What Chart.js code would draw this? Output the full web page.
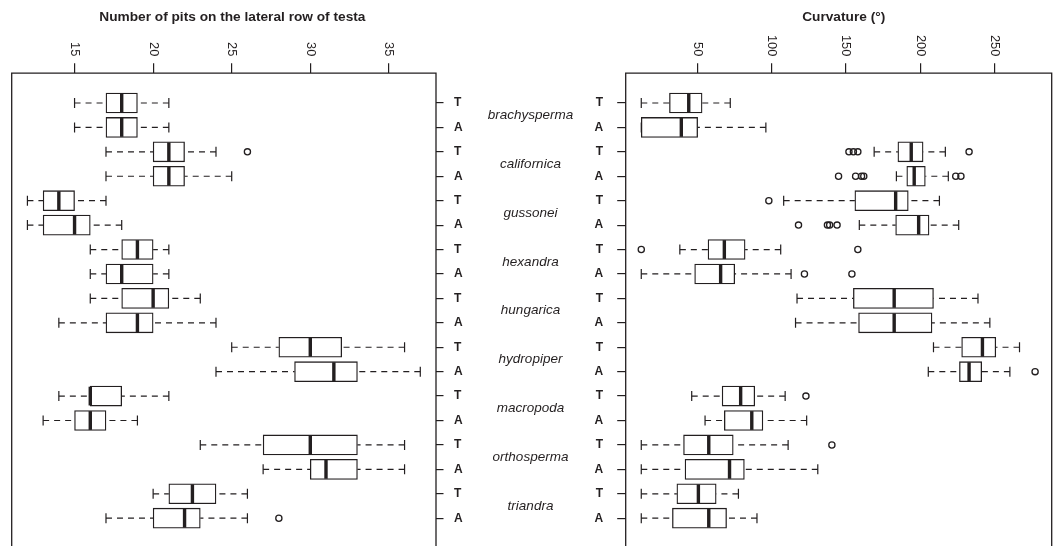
<!DOCTYPE html>
<html>
<head>
<meta charset="utf-8">
<title>Seed traits by species and group</title>
<script src="https://cdn.jsdelivr.net/npm/chart.js@4.4.1/dist/chart.umd.min.js"></script>
<style>
  html, body { margin: 0; padding: 0; background: #fff; overflow: hidden; width: 1058px; height: 546px; }
  #wrap { position: relative; width: 1058px; height: 546px; overflow: hidden; }
  #wrap canvas { position: absolute; left: 0; top: 0; }
</style>
</head>
<body>
<div id="wrap">
  <canvas id="pits" width="1058" height="600"></canvas>
  <canvas id="curv" width="1058" height="600"></canvas>
</div>
<script>
// ---- categories -------------------------------------------------------
const species = ['brachysperma', 'californica', 'gussonei', 'hexandra', 'hungarica',
                 'hydropiper', 'macropoda', 'orthosperma', 'triandra'];
const groups = ['T', 'A'];                     // each species: T row, then A row

// ---- number of pits on the lateral row of testa (rows: species x group) --
const pitsLow  = [15, 15, 17, 17, 12, 12, 16, 16, 16, 14, 25, 24, 14, 13, 23, 27, 20, 17];
const pitsQ1   = [17, 17, 20, 20, 13, 13, 18, 17, 18, 17, 28, 29, 16, 15, 27, 30, 21, 20];
const pitsMed  = [18, 18, 21, 21, 14, 15, 19, 18, 20, 19, 30, 31.5, 16, 16, 30, 31, 22.5, 22];
const pitsQ3   = [19, 19, 22, 22, 15, 16, 20, 20, 21, 20, 32, 33, 18, 17, 33, 33, 24, 23];
const pitsHigh = [21, 21, 24, 25, 17, 18, 21, 21, 23, 24, 36, 37, 21, 19, 36, 36, 26, 26];
const pitsOut  = [[], [], [26], [], [], [], [], [], [], [], [], [], [], [], [], [], [], [28]];
const pitsTicks = [15, 20, 25, 30, 35];

// ---- curvature in degrees ---------------------------------------------
const curvLow  = [12, 12, 169, 184, 108, 159, 38, 12, 117, 116, 209, 205.5, 46, 55, 12, 12, 12, 12];
const curvQ1   = [31, 12, 185, 191, 156, 183.5, 57, 48, 155, 158.5, 228, 226.5, 66.5, 68, 40.5, 41.5, 36, 33];
const curvMed  = [44, 39, 194, 196, 183.5, 199, 68, 65.5, 182.5, 182.5, 242, 233, 79, 86.5, 57.5, 71.5, 50.5, 57.5];
const curvQ3   = [53, 50, 202, 203.5, 192, 206, 82, 75, 209, 208, 251, 241.5, 88.5, 94, 74, 81.5, 62.5, 69.5];
const curvHigh = [72, 96, 217, 219, 213, 226, 106, 113, 239, 247, 267, 260.5, 109, 123.5, 111, 131, 77.5, 90];
const curvOut  = [[], [], [152, 155, 158, 233], [145, 156.5, 160.5, 162, 224, 227.5],
                  [98], [118, 137.5, 139, 144], [12, 158], [122, 154], [], [], [], [277.5],
                  [123], [], [140.5], [], [], []];
const curvTicks = [50, 100, 150, 200, 250];

// ---- shared styling ---------------------------------------------------
const INK = '#231f20';
const FAMILY = '"Liberation Sans", Arial, Helvetica, sans-serif';
const BOX_H = 20;        // box height in px
const CAP_H = 10;        // whisker staple height in px
const ROW_MIN = -0.22, ROW_MAX = 19.22;   // row axis with 4% extension around 0.5..18.5

const rows = [];
species.forEach(() => groups.forEach(g => rows.push(g)));
const rowPositions = rows.map((_, i) => i + 1);

// medians, whiskers and staples drawn on the chart's own scales
function boxplotPlugin(id, low, q1, med, q3, high) {
  return {
    id,
    afterDatasetsDraw(chart) {
      const { ctx, scales: { x, y } } = chart;
      ctx.save();
      ctx.strokeStyle = INK;
      for (let i = 0; i < med.length; i++) {
        const yc = y.getPixelForValue(rowPositions[i]);
        const xl = x.getPixelForValue(low[i]);
        const x1 = x.getPixelForValue(q1[i]);
        const x3 = x.getPixelForValue(q3[i]);
        const xh = x.getPixelForValue(high[i]);
        // dashed whiskers, drawn from the whisker end towards the box
        ctx.lineWidth = 1.2;
        ctx.setLineDash([6, 5]);
        ctx.beginPath();
        if (xl < x1) { ctx.moveTo(xl, yc); ctx.lineTo(x1, yc); }
        if (xh > x3) { ctx.moveTo(xh, yc); ctx.lineTo(x3, yc); }
        ctx.stroke();
        ctx.setLineDash([]);
        // staples
        ctx.beginPath();
        ctx.moveTo(xl, yc - CAP_H / 2); ctx.lineTo(xl, yc + CAP_H / 2);
        ctx.moveTo(xh, yc - CAP_H / 2); ctx.lineTo(xh, yc + CAP_H / 2);
        ctx.stroke();
        // median
        const xm = x.getPixelForValue(med[i]);
        ctx.lineWidth = 3.4;
        ctx.beginPath();
        ctx.moveTo(xm, yc - BOX_H / 2 + 0.6);
        ctx.lineTo(xm, yc + BOX_H / 2 - 0.6);
        ctx.stroke();
      }
      ctx.restore();
    }
  };
}

// open frame (left, top, right) plus rotated value labels above the top ticks
function framePlugin(id, ticks, title, titleShift) {
  return {
    id,
    afterDraw(chart) {
      const { ctx, chartArea: a, scales: { x } } = chart;
      ctx.save();
      ctx.strokeStyle = INK;
      ctx.lineWidth = 1.3;
      ctx.beginPath();
      ctx.moveTo(a.left, a.bottom + 20);
      ctx.lineTo(a.left, a.top);
      ctx.lineTo(a.right, a.top);
      ctx.lineTo(a.right, a.bottom + 20);
      ctx.stroke();
      // value labels, reading downwards, ending just above the tick marks
      ctx.fillStyle = INK;
      ctx.font = '12.9px ' + FAMILY;
      ctx.textAlign = 'right';
      ctx.textBaseline = 'middle';
      ticks.forEach(v => {
        const px = x.getPixelForValue(v);
        ctx.save();
        ctx.translate(px, a.top - 16.8);
        ctx.rotate(Math.PI / 2);
        ctx.fillText(String(v), 0, 0);
        ctx.restore();
      });
      // panel title
      ctx.font = 'bold 13.7px ' + FAMILY;
      ctx.textAlign = 'center';
      ctx.textBaseline = 'middle';
      ctx.fillText(title, (a.left + a.right) / 2 + titleShift, 17.5);
      ctx.restore();
    }
  };
}

// species names in the gap between the two panels
const speciesPlugin = {
  id: 'speciesNames',
  afterDraw(chart) {
    const { ctx, scales: { y } } = chart;
    ctx.save();
    ctx.fillStyle = INK;
    ctx.font = 'italic 13.5px ' + FAMILY;
    ctx.textAlign = 'center';
    ctx.textBaseline = 'middle';
    species.forEach((name, k) => {
      const yc = y.getPixelForValue(2 * k + 1.5);
      ctx.fillText(name, 530.5, yc);
    });
    ctx.restore();
  }
};

function makePanel(canvasId, cfg) {
  const boxes = rowPositions.map((p, i) => ({ y: p, x: [cfg.q1[i], cfg.q3[i]] }));
  const outliers = [];
  cfg.out.forEach((vals, i) => vals.forEach(v => outliers.push({ x: v, y: rowPositions[i] })));

  return new Chart(document.getElementById(canvasId), {
    type: 'bar',
    data: {
      datasets: [
        {
          type: 'bar',
          indexAxis: 'y',
          data: boxes,
          backgroundColor: '#ffffff',
          borderColor: INK,
          borderWidth: 1.3,
          borderSkipped: false,
          barThickness: BOX_H
        },
        {
          type: 'scatter',
          data: outliers,
          pointStyle: 'circle',
          pointRadius: 3.1,
          pointBorderWidth: 1.3,
          pointBackgroundColor: 'rgba(255,255,255,0)',
          pointBorderColor: INK,
          showLine: false
        }
      ]
    },
    options: {
      indexAxis: 'y',
      responsive: false,
      animation: false,
      events: [],
      layout: { padding: cfg.padding },
      plugins: { legend: { display: false }, tooltip: { enabled: false }, title: { display: false } },
      scales: {
        x: {
          type: 'linear',
          position: 'top',
          offset: false,
          beginAtZero: false,
          min: cfg.min,
          max: cfg.max,
          afterBuildTicks: s => { s.ticks = cfg.ticks.map(v => ({ value: v })); },
          afterFit: s => { s.height = 73.2; },
          border: { display: false },
          grid: { offset: false, drawOnChartArea: false, drawTicks: true, tickLength: 10, color: INK, lineWidth: 1.2 },
          ticks: { display: false }
        },
        y: {
          type: 'linear',
          position: cfg.yPosition,
          offset: false,
          beginAtZero: false,
          reverse: true,
          min: ROW_MIN,
          max: ROW_MAX,
          afterBuildTicks: s => { s.ticks = rowPositions.map(v => ({ value: v })); },
          afterFit: s => { s.width = 100; },
          border: { display: false },
          grid: { offset: false, drawOnChartArea: false, drawTicks: true, tickLength: cfg.tickLen, color: INK, lineWidth: 1.2 },
          ticks: {
            padding: cfg.labelPad,
            color: INK,
            font: { family: FAMILY, size: 12, weight: 'bold' },
            callback: v => rows[Math.round(v) - 1]
          }
        }
      }
    },
    plugins: cfg.plugins
  });
}

makePanel('pits', {
  q1: pitsQ1, q3: pitsQ3, out: pitsOut, ticks: pitsTicks,
  min: 11, max: 38,
  padding: { left: 11.7, right: 522, top: 0, bottom: 52 },
  yPosition: 'right', tickLen: 7.5, labelPad: 10.5,
  plugins: [
    boxplotPlugin('pitsBoxes', pitsLow, pitsQ1, pitsMed, pitsQ3, pitsHigh),
    framePlugin('pitsFrame', pitsTicks, 'Number of pits on the lateral row of testa', 8.5),
    speciesPlugin
  ]
});

makePanel('curv', {
  q1: curvQ1, q3: curvQ3, out: curvOut, ticks: curvTicks,
  min: 1.5, max: 288.7,
  padding: { left: 525.7, right: 6.3, top: 0, bottom: 52 },
  yPosition: 'left', tickLen: 8.5, labelPad: 14,
  plugins: [
    boxplotPlugin('curvBoxes', curvLow, curvQ1, curvMed, curvQ3, curvHigh),
    framePlugin('curvFrame', curvTicks, 'Curvature (°)', 5)
  ]
});
</script>
</body>
</html>
